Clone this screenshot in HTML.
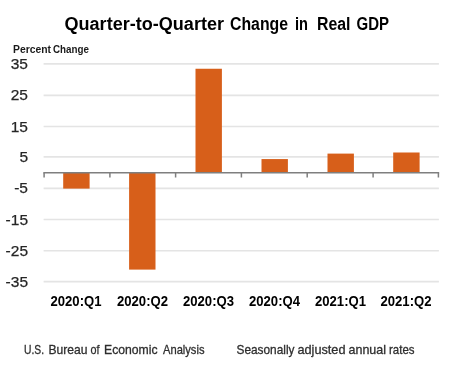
<!DOCTYPE html><html><head><meta charset="utf-8"><style>html,body{margin:0;padding:0;background:#fff;width:460px;height:365px;overflow:hidden}svg{display:block;will-change:transform}text{font-family:"Liberation Sans",sans-serif}</style></head><body>
<svg width="460" height="365" viewBox="0 0 460 365">
<rect width="460" height="365" fill="#fff"/>
<line x1="43.6" y1="63.90" x2="438.9" y2="63.90" stroke="#e4e4e4" stroke-width="1.7"/>
<line x1="43.6" y1="95.30" x2="438.9" y2="95.30" stroke="#e4e4e4" stroke-width="1.7"/>
<line x1="43.6" y1="126.50" x2="438.9" y2="126.50" stroke="#e4e4e4" stroke-width="1.7"/>
<line x1="43.6" y1="156.90" x2="438.9" y2="156.90" stroke="#e4e4e4" stroke-width="1.7"/>
<line x1="43.6" y1="188.30" x2="438.9" y2="188.30" stroke="#e4e4e4" stroke-width="1.7"/>
<line x1="43.6" y1="219.50" x2="438.9" y2="219.50" stroke="#e4e4e4" stroke-width="1.7"/>
<line x1="43.6" y1="250.75" x2="438.9" y2="250.75" stroke="#e4e4e4" stroke-width="1.7"/>
<line x1="43.6" y1="281.60" x2="438.9" y2="281.60" stroke="#e4e4e4" stroke-width="1.7"/>
<rect x="63.20" y="172.70" width="26.4" height="15.90" fill="#D75F1A"/>
<rect x="129.10" y="172.70" width="26.4" height="96.90" fill="#D75F1A"/>
<rect x="195.50" y="68.75" width="26.4" height="103.95" fill="#D75F1A"/>
<rect x="261.50" y="159.07" width="26.4" height="13.63" fill="#D75F1A"/>
<rect x="327.50" y="153.60" width="26.4" height="19.10" fill="#D75F1A"/>
<rect x="393.20" y="152.50" width="26.4" height="20.20" fill="#D75F1A"/>
<line x1="43.35" y1="172.7" x2="439.15" y2="172.7" stroke="#7f7f7f" stroke-width="1.5"/>
<line x1="44.10" y1="172.7" x2="44.10" y2="177.50" stroke="#7f7f7f" stroke-width="1.5"/>
<line x1="109.90" y1="172.7" x2="109.90" y2="177.50" stroke="#7f7f7f" stroke-width="1.5"/>
<line x1="175.60" y1="172.7" x2="175.60" y2="177.50" stroke="#7f7f7f" stroke-width="1.5"/>
<line x1="241.40" y1="172.7" x2="241.40" y2="177.50" stroke="#7f7f7f" stroke-width="1.5"/>
<line x1="307.20" y1="172.7" x2="307.20" y2="177.50" stroke="#7f7f7f" stroke-width="1.5"/>
<line x1="373.10" y1="172.7" x2="373.10" y2="177.50" stroke="#7f7f7f" stroke-width="1.5"/>
<line x1="438.40" y1="172.7" x2="438.40" y2="177.50" stroke="#7f7f7f" stroke-width="1.5"/>
<text x="28" y="68.90" text-anchor="end" font-size="15.5" fill="#262626" stroke="#262626" stroke-width="0.25">35</text>
<text x="28" y="100.30" text-anchor="end" font-size="15.5" fill="#262626" stroke="#262626" stroke-width="0.25">25</text>
<text x="28" y="131.50" text-anchor="end" font-size="15.5" fill="#262626" stroke="#262626" stroke-width="0.25">15</text>
<text x="28" y="161.90" text-anchor="end" font-size="15.5" fill="#262626" stroke="#262626" stroke-width="0.25">5</text>
<text x="28" y="193.30" text-anchor="end" font-size="15.5" fill="#262626" stroke="#262626" stroke-width="0.25">-5</text>
<text x="28" y="224.50" text-anchor="end" font-size="15.5" fill="#262626" stroke="#262626" stroke-width="0.25">-15</text>
<text x="28" y="255.75" text-anchor="end" font-size="15.5" fill="#262626" stroke="#262626" stroke-width="0.25">-25</text>
<text x="28" y="286.60" text-anchor="end" font-size="15.5" fill="#262626" stroke="#262626" stroke-width="0.25">-35</text>
<text x="64.50" y="29.5" font-size="18" font-weight="bold" fill="#000" textLength="159.50" lengthAdjust="spacingAndGlyphs">Quarter-to-Quarter</text>
<text x="230.00" y="29.5" font-size="18" font-weight="bold" fill="#000" textLength="58.00" lengthAdjust="spacingAndGlyphs">Change</text>
<text x="295.00" y="29.5" font-size="18" font-weight="bold" fill="#000" textLength="13.00" lengthAdjust="spacingAndGlyphs">in</text>
<text x="317.00" y="29.5" font-size="18" font-weight="bold" fill="#000" textLength="33.50" lengthAdjust="spacingAndGlyphs">Real</text>
<text x="356.50" y="29.5" font-size="18" font-weight="bold" fill="#000" textLength="32.50" lengthAdjust="spacingAndGlyphs">GDP</text>
<text x="13.00" y="53.0" font-size="10" font-weight="bold" fill="#1a1a1a" textLength="38.00" lengthAdjust="spacingAndGlyphs">Percent</text>
<text x="53.00" y="53.0" font-size="10" font-weight="bold" fill="#1a1a1a" textLength="36.00" lengthAdjust="spacingAndGlyphs">Change</text>
<text x="24.00" y="353.9" font-size="13" font-weight="normal" fill="#2e2e2e" stroke="#2e2e2e" stroke-width="0.3" textLength="20.00" lengthAdjust="spacingAndGlyphs">U.S.</text>
<text x="48.50" y="353.9" font-size="13" font-weight="normal" fill="#2e2e2e" stroke="#2e2e2e" stroke-width="0.3" textLength="39.00" lengthAdjust="spacingAndGlyphs">Bureau</text>
<text x="90.50" y="353.9" font-size="13" font-weight="normal" fill="#2e2e2e" stroke="#2e2e2e" stroke-width="0.3" textLength="9.00" lengthAdjust="spacingAndGlyphs">of</text>
<text x="104.00" y="353.9" font-size="13" font-weight="normal" fill="#2e2e2e" stroke="#2e2e2e" stroke-width="0.3" textLength="53.50" lengthAdjust="spacingAndGlyphs">Economic</text>
<text x="163.00" y="353.9" font-size="13" font-weight="normal" fill="#2e2e2e" stroke="#2e2e2e" stroke-width="0.3" textLength="41.50" lengthAdjust="spacingAndGlyphs">Analysis</text>
<text x="236.50" y="353.9" font-size="13" font-weight="normal" fill="#2e2e2e" stroke="#2e2e2e" stroke-width="0.3" textLength="58.00" lengthAdjust="spacingAndGlyphs">Seasonally</text>
<text x="297.50" y="353.9" font-size="13" font-weight="normal" fill="#2e2e2e" stroke="#2e2e2e" stroke-width="0.3" textLength="48.00" lengthAdjust="spacingAndGlyphs">adjusted</text>
<text x="348.50" y="353.9" font-size="13" font-weight="normal" fill="#2e2e2e" stroke="#2e2e2e" stroke-width="0.3" textLength="37.50" lengthAdjust="spacingAndGlyphs">annual</text>
<text x="389.00" y="353.9" font-size="13" font-weight="normal" fill="#2e2e2e" stroke="#2e2e2e" stroke-width="0.3" textLength="25.50" lengthAdjust="spacingAndGlyphs">rates</text>
<text x="50.50" y="305.6" font-size="14" font-weight="bold" fill="#000" textLength="51.00" lengthAdjust="spacingAndGlyphs">2020:Q1</text>
<text x="117.00" y="305.6" font-size="14" font-weight="bold" fill="#000" textLength="51.00" lengthAdjust="spacingAndGlyphs">2020:Q2</text>
<text x="183.00" y="305.6" font-size="14" font-weight="bold" fill="#000" textLength="51.00" lengthAdjust="spacingAndGlyphs">2020:Q3</text>
<text x="249.00" y="305.6" font-size="14" font-weight="bold" fill="#000" textLength="51.00" lengthAdjust="spacingAndGlyphs">2020:Q4</text>
<text x="315.00" y="305.6" font-size="14" font-weight="bold" fill="#000" textLength="51.00" lengthAdjust="spacingAndGlyphs">2021:Q1</text>
<text x="380.50" y="305.6" font-size="14" font-weight="bold" fill="#000" textLength="51.00" lengthAdjust="spacingAndGlyphs">2021:Q2</text>
</svg></body></html>
